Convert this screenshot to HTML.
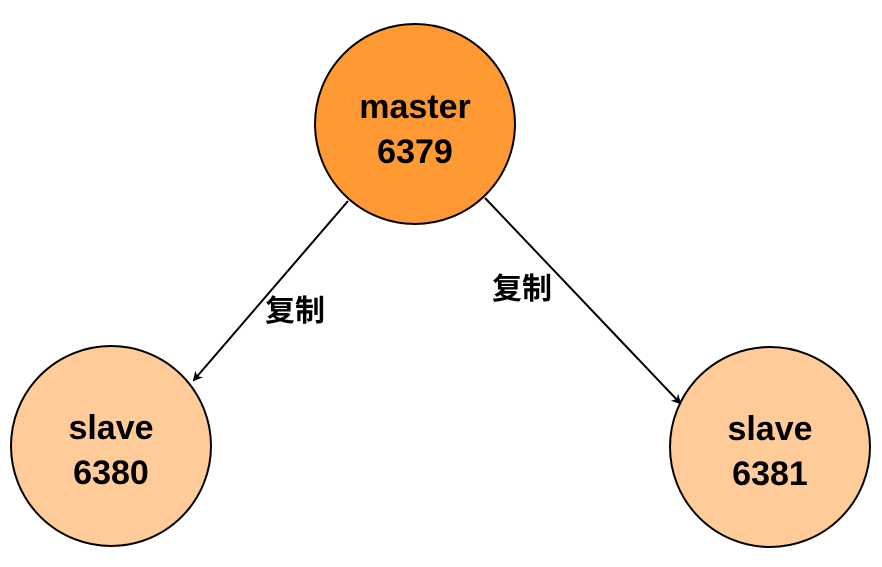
<!DOCTYPE html>
<html><head><meta charset="utf-8"><style>html,body{margin:0;padding:0;background:#fff}</style></head>
<body>
<svg width="882" height="562" viewBox="0 0 882 562" xmlns="http://www.w3.org/2000/svg">
<defs><marker id="a" markerWidth="10" markerHeight="10" refX="8" refY="5" orient="auto" markerUnits="userSpaceOnUse" viewBox="0 0 10 10"><path d="M0,0 L10,5 L0,10 L3,5 z" fill="#000"/></marker></defs>
<circle cx="415" cy="124" r="100" fill="#FF9933" stroke="#000" stroke-width="2"/>
<circle cx="111" cy="446" r="100" fill="#FFCC99" stroke="#000" stroke-width="2"/>
<circle cx="770" cy="447" r="100" fill="#FFCC99" stroke="#000" stroke-width="2"/>
<line x1="348" y1="201" x2="194" y2="380" stroke="#000" stroke-width="2" marker-end="url(#a)"/>
<line x1="485" y1="198" x2="680" y2="403" stroke="#000" stroke-width="2" marker-end="url(#a)"/>
<g font-family="Liberation Sans, sans-serif" font-weight="bold" font-size="34" text-anchor="middle" fill="#000">
<text x="415" y="118">master</text><text x="415" y="163">6379</text>
<text x="111" y="439">slave</text><text x="111" y="484">6380</text>
<text x="770" y="440">slave</text><text x="770" y="485">6381</text>
</g>
<g font-family="Liberation Sans, 'Noto Sans CJK SC', sans-serif" font-weight="bold" font-size="30" fill="#000">
<text x="265" y="321">复制</text><text x="492" y="299">复制</text>
</g>
</svg>
</body></html>
